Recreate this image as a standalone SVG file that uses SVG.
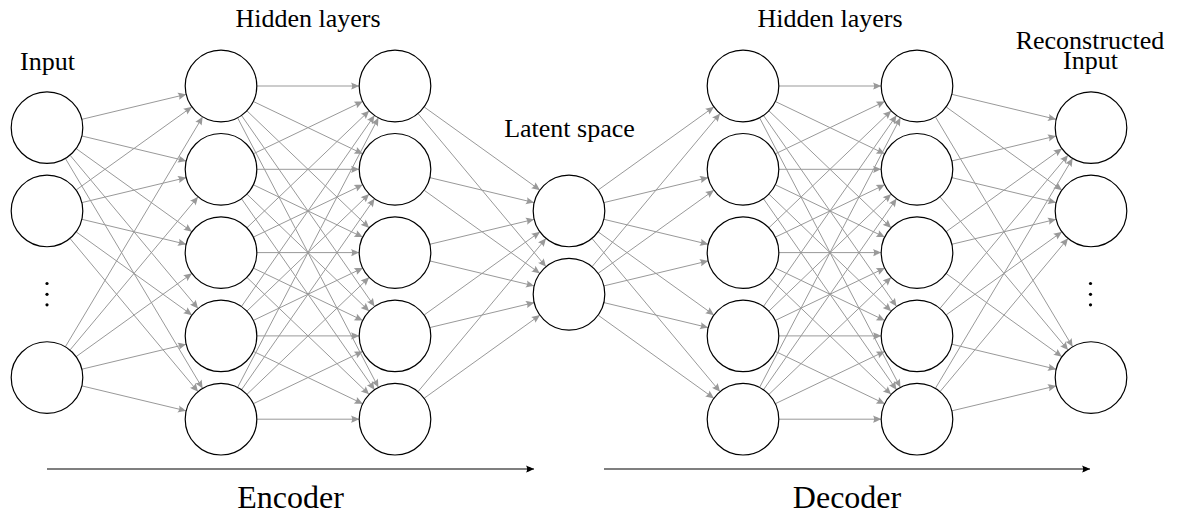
<svg xmlns="http://www.w3.org/2000/svg" xmlns:xlink="http://www.w3.org/1999/xlink" width="1179" height="517" viewBox="0 0 1179 517">
<style>
.lbl{font-family:"Liberation Serif",Tinos,"Times New Roman",Times,"DejaVu Serif",serif;font-size:26px;fill:#000;text-anchor:middle}
.big{font-family:"Liberation Serif",Tinos,"Times New Roman",Times,"DejaVu Serif",serif;font-size:32px;fill:#000;text-anchor:middle}
.nd{fill:#fff;stroke:#000;stroke-width:1.2}
.e{fill:none;stroke:#999;stroke-width:1;marker-end:url(#ah)}
.ax{fill:none;stroke:#000;stroke-width:1.2;marker-end:url(#ahk)}
</style>
<defs>
<marker id="ah" markerUnits="userSpaceOnUse" viewBox="-9 -5 10 10" markerWidth="10" markerHeight="10" refX="0" refY="0" orient="auto">
<path d="M0,0 C-2,-1 -5,-2.5 -8,-3.6 C-6.5,-1.5 -6.5,1.5 -8,3.6 C-5,2.5 -2,1 0,0 Z" fill="#999"/>
</marker>
<marker id="ahk" markerUnits="userSpaceOnUse" viewBox="-9 -5 10 10" markerWidth="10" markerHeight="10" refX="0" refY="0" orient="auto">
<path d="M0,0 C-2,-1 -5,-2.5 -8,-3.6 C-6.5,-1.5 -6.5,1.5 -8,3.6 C-5,2.5 -2,1 0,0 Z" fill="#000"/>
</marker>
<path id="e0" class="e" d="M36,0 L138,0"/>
<path id="p1" class="e" d="M35.01,8.38 L138.99,33.27"/>
<path id="p2" class="e" d="M32.47,15.55 L141.53,67.75"/>
<path id="p3" class="e" d="M29.24,21.00 L144.76,103.95"/>
<path id="p4" class="e" d="M26.00,24.90 L148.00,141.70"/>
<path id="p5" class="e" d="M23.08,27.63 L150.92,180.62"/>
<path id="p6" class="e" d="M20.57,29.54 L153.43,220.36"/>
<path id="p7" class="e" d="M18.45,30.91 L155.55,260.64"/>
<path id="p8" class="e" d="M16.66,31.91 L157.34,301.29"/>
<path id="m1" class="e" d="M35.01,-8.38 L138.99,-33.27"/>
<path id="m2" class="e" d="M32.47,-15.55 L141.53,-67.75"/>
<path id="m3" class="e" d="M29.24,-21.00 L144.76,-103.95"/>
<path id="m4" class="e" d="M26.00,-24.90 L148.00,-141.70"/>
<path id="m5" class="e" d="M23.08,-27.63 L150.92,-180.62"/>
<path id="m6" class="e" d="M20.57,-29.54 L153.43,-220.36"/>
<path id="m7" class="e" d="M18.45,-30.91 L155.55,-260.64"/>
<path id="m8" class="e" d="M16.66,-31.91 L157.34,-301.29"/>
</defs>
<g id="connectors">
<use xlink:href="#m1" x="47" y="127.65"/><use xlink:href="#p1" x="47" y="127.65"/><use xlink:href="#p3" x="47" y="127.65"/><use xlink:href="#p5" x="47" y="127.65"/><use xlink:href="#p7" x="47" y="127.65"/>
<use xlink:href="#m3" x="47" y="210.95"/><use xlink:href="#m1" x="47" y="210.95"/><use xlink:href="#p1" x="47" y="210.95"/><use xlink:href="#p3" x="47" y="210.95"/><use xlink:href="#p5" x="47" y="210.95"/>
<use xlink:href="#m7" x="47" y="377.55"/><use xlink:href="#m5" x="47" y="377.55"/><use xlink:href="#m3" x="47" y="377.55"/><use xlink:href="#m1" x="47" y="377.55"/><use xlink:href="#p1" x="47" y="377.55"/>
<use xlink:href="#e0" x="221" y="86"/><use xlink:href="#p2" x="221" y="86"/><use xlink:href="#p4" x="221" y="86"/><use xlink:href="#p6" x="221" y="86"/><use xlink:href="#p8" x="221" y="86"/>
<use xlink:href="#m2" x="221" y="169.3"/><use xlink:href="#e0" x="221" y="169.3"/><use xlink:href="#p2" x="221" y="169.3"/><use xlink:href="#p4" x="221" y="169.3"/><use xlink:href="#p6" x="221" y="169.3"/>
<use xlink:href="#m4" x="221" y="252.6"/><use xlink:href="#m2" x="221" y="252.6"/><use xlink:href="#e0" x="221" y="252.6"/><use xlink:href="#p2" x="221" y="252.6"/><use xlink:href="#p4" x="221" y="252.6"/>
<use xlink:href="#m6" x="221" y="335.9"/><use xlink:href="#m4" x="221" y="335.9"/><use xlink:href="#m2" x="221" y="335.9"/><use xlink:href="#e0" x="221" y="335.9"/><use xlink:href="#p2" x="221" y="335.9"/>
<use xlink:href="#m8" x="221" y="419.2"/><use xlink:href="#m6" x="221" y="419.2"/><use xlink:href="#m4" x="221" y="419.2"/><use xlink:href="#m2" x="221" y="419.2"/><use xlink:href="#e0" x="221" y="419.2"/>
<use xlink:href="#p3" x="395" y="86"/><use xlink:href="#p5" x="395" y="86"/>
<use xlink:href="#p1" x="395" y="169.3"/><use xlink:href="#p3" x="395" y="169.3"/>
<use xlink:href="#m1" x="395" y="252.6"/><use xlink:href="#p1" x="395" y="252.6"/>
<use xlink:href="#m3" x="395" y="335.9"/><use xlink:href="#m1" x="395" y="335.9"/>
<use xlink:href="#m5" x="395" y="419.2"/><use xlink:href="#m3" x="395" y="419.2"/>
<use xlink:href="#m3" x="569" y="210.95"/><use xlink:href="#m1" x="569" y="210.95"/><use xlink:href="#p1" x="569" y="210.95"/><use xlink:href="#p3" x="569" y="210.95"/><use xlink:href="#p5" x="569" y="210.95"/>
<use xlink:href="#m5" x="569" y="294.25"/><use xlink:href="#m3" x="569" y="294.25"/><use xlink:href="#m1" x="569" y="294.25"/><use xlink:href="#p1" x="569" y="294.25"/><use xlink:href="#p3" x="569" y="294.25"/>
<use xlink:href="#e0" x="743" y="86"/><use xlink:href="#p2" x="743" y="86"/><use xlink:href="#p4" x="743" y="86"/><use xlink:href="#p6" x="743" y="86"/><use xlink:href="#p8" x="743" y="86"/>
<use xlink:href="#m2" x="743" y="169.3"/><use xlink:href="#e0" x="743" y="169.3"/><use xlink:href="#p2" x="743" y="169.3"/><use xlink:href="#p4" x="743" y="169.3"/><use xlink:href="#p6" x="743" y="169.3"/>
<use xlink:href="#m4" x="743" y="252.6"/><use xlink:href="#m2" x="743" y="252.6"/><use xlink:href="#e0" x="743" y="252.6"/><use xlink:href="#p2" x="743" y="252.6"/><use xlink:href="#p4" x="743" y="252.6"/>
<use xlink:href="#m6" x="743" y="335.9"/><use xlink:href="#m4" x="743" y="335.9"/><use xlink:href="#m2" x="743" y="335.9"/><use xlink:href="#e0" x="743" y="335.9"/><use xlink:href="#p2" x="743" y="335.9"/>
<use xlink:href="#m8" x="743" y="419.2"/><use xlink:href="#m6" x="743" y="419.2"/><use xlink:href="#m4" x="743" y="419.2"/><use xlink:href="#m2" x="743" y="419.2"/><use xlink:href="#e0" x="743" y="419.2"/>
<use xlink:href="#p1" x="917" y="86"/><use xlink:href="#p3" x="917" y="86"/><use xlink:href="#p7" x="917" y="86"/>
<use xlink:href="#m1" x="917" y="169.3"/><use xlink:href="#p1" x="917" y="169.3"/><use xlink:href="#p5" x="917" y="169.3"/>
<use xlink:href="#m3" x="917" y="252.6"/><use xlink:href="#m1" x="917" y="252.6"/><use xlink:href="#p3" x="917" y="252.6"/>
<use xlink:href="#m5" x="917" y="335.9"/><use xlink:href="#m3" x="917" y="335.9"/><use xlink:href="#p1" x="917" y="335.9"/>
<use xlink:href="#m7" x="917" y="419.2"/><use xlink:href="#m5" x="917" y="419.2"/><use xlink:href="#m1" x="917" y="419.2"/>
<path class="ax" d="M47,469 L534,469"/>
<path class="ax" d="M604,469 L1090,469"/>
</g>
<g id="input-layer">
<circle id="in1" class="nd" cx="47" cy="127.65" r="35.8"/>
<circle id="in2" class="nd" cx="47" cy="210.95" r="35.8"/>
<circle id="in3" class="nd" cx="47" cy="377.55" r="35.8"/>
<circle cx="47" cy="283.5" r="1.6"/><circle cx="47" cy="294.3" r="1.6"/><circle cx="47" cy="304.8" r="1.6"/>
</g>
<g id="hidden1">
<circle id="h1a" class="nd" cx="221" cy="86" r="35.8"/>
<circle id="h1b" class="nd" cx="221" cy="169.3" r="35.8"/>
<circle id="h1c" class="nd" cx="221" cy="252.6" r="35.8"/>
<circle id="h1d" class="nd" cx="221" cy="335.9" r="35.8"/>
<circle id="h1e" class="nd" cx="221" cy="419.2" r="35.8"/>
</g>
<g id="hidden2">
<circle id="h2a" class="nd" cx="395" cy="86" r="35.8"/>
<circle id="h2b" class="nd" cx="395" cy="169.3" r="35.8"/>
<circle id="h2c" class="nd" cx="395" cy="252.6" r="35.8"/>
<circle id="h2d" class="nd" cx="395" cy="335.9" r="35.8"/>
<circle id="h2e" class="nd" cx="395" cy="419.2" r="35.8"/>
</g>
<g id="latent">
<circle id="la" class="nd" cx="569" cy="210.95" r="35.8"/>
<circle id="lb" class="nd" cx="569" cy="294.25" r="35.8"/>
</g>
<g id="hidden3">
<circle id="h3a" class="nd" cx="743" cy="86" r="35.8"/>
<circle id="h3b" class="nd" cx="743" cy="169.3" r="35.8"/>
<circle id="h3c" class="nd" cx="743" cy="252.6" r="35.8"/>
<circle id="h3d" class="nd" cx="743" cy="335.9" r="35.8"/>
<circle id="h3e" class="nd" cx="743" cy="419.2" r="35.8"/>
</g>
<g id="hidden4">
<circle id="h4a" class="nd" cx="917" cy="86" r="35.8"/>
<circle id="h4b" class="nd" cx="917" cy="169.3" r="35.8"/>
<circle id="h4c" class="nd" cx="917" cy="252.6" r="35.8"/>
<circle id="h4d" class="nd" cx="917" cy="335.9" r="35.8"/>
<circle id="h4e" class="nd" cx="917" cy="419.2" r="35.8"/>
</g>
<g id="output-layer">
<circle id="o1" class="nd" cx="1091" cy="127.65" r="35.8"/>
<circle id="o2" class="nd" cx="1091" cy="210.95" r="35.8"/>
<circle id="o3" class="nd" cx="1091" cy="377.55" r="35.8"/>
<circle cx="1090.5" cy="283.5" r="1.6"/><circle cx="1090.5" cy="294.3" r="1.6"/><circle cx="1090.5" cy="304.8" r="1.6"/>
</g>
<g id="labels">
<text class="lbl" x="47.5" y="69.5">Input</text>
<text class="lbl" x="308" y="26.7">Hidden layers</text>
<text class="lbl" x="569.5" y="136.7">Latent space</text>
<text class="lbl" x="830" y="26.7">Hidden layers</text>
<text class="lbl" x="1090" y="49.3">Reconstructed</text>
<text class="lbl" x="1090.5" y="69.3">Input</text>
<text class="big" x="290.5" y="508">Encoder</text>
<text class="big" x="847" y="508">Decoder</text>
</g>
</svg>
